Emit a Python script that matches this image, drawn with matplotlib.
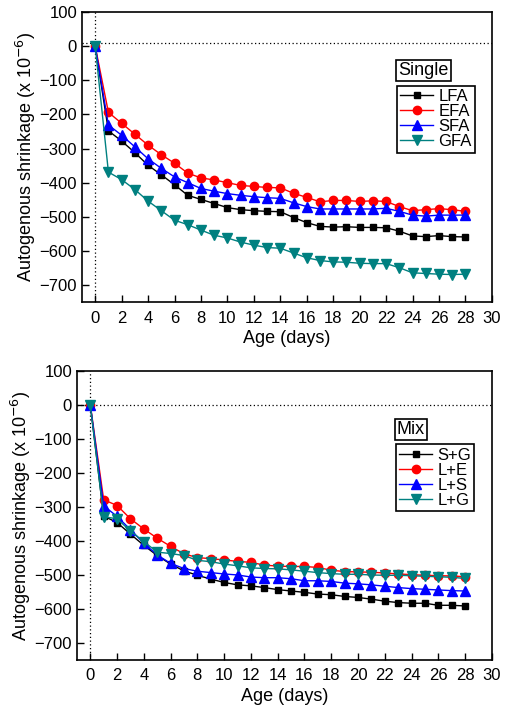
import matplotlib
matplotlib.use("Agg")
import matplotlib.pyplot as plt

plt.rcParams['font.family'] = ['Liberation Sans', 'DejaVu Sans']

days = list(range(29))

# top panel - single
lfa = [0, -248, -278, -312, -349, -377, -406, -437, -449, -461, -473, -479, -482, -484, -485,
       -502, -517, -528, -530, -529, -531, -531, -532, -542, -556, -558, -555, -558, -559]
efa = [0, -194, -226, -258, -290, -318, -343, -372, -386, -392, -400, -408, -411, -414, -415,
       -431, -443, -456, -452, -452, -455, -453, -455, -470, -482, -479, -476, -479, -484]
sfa = [0, -231, -261, -295, -330, -358, -383, -400, -417, -425, -432, -437, -441, -444, -446,
       -459, -470, -477, -477, -477, -477, -477, -475, -484, -495, -498, -495, -495, -495]
gfa = [0, -369, -391, -420, -454, -482, -510, -523, -539, -554, -562, -574, -583, -590, -592,
       -606, -620, -628, -632, -633, -636, -637, -637, -649, -664, -666, -668, -669, -668]

# bottom panel - mix
sg = [0, -327, -346, -380, -413, -443, -468, -488, -501, -512, -522, -529, -532, -537, -543,
      -547, -551, -556, -558, -563, -566, -571, -577, -581, -583, -583, -589, -589, -591]
le = [0, -279, -296, -335, -365, -392, -416, -438, -449, -452, -456, -460, -463, -471, -474,
      -475, -475, -478, -486, -490, -491, -492, -494, -497, -499, -501, -502, -503, -505]
ls = [0, -297, -328, -367, -407, -441, -466, -481, -489, -493, -497, -500, -506, -508, -508,
      -511, -517, -517, -519, -524, -526, -529, -533, -537, -540, -542, -544, -546, -547]
lg = [0, -329, -335, -371, -402, -433, -437, -443, -457, -461, -468, -473, -479, -481, -482,
      -485, -489, -493, -496, -498, -498, -500, -501, -501, -502, -504, -505, -507, -510]

colors = ['black', 'red', 'blue', '#008080']
markers = ['s', 'o', '^', 'v']
msizes = [5, 6, 6.5, 6.5]

fig = plt.figure(figsize=(5.06, 7.06), dpi=100)
ax1 = fig.add_axes([0.162, 0.572, 0.810, 0.411])
ax2 = fig.add_axes([0.152, 0.065, 0.820, 0.410])


def panel(ax, series, names, title, hline):
    ax.axhline(hline, color='black', ls=(0, (1, 2)), lw=0.9, zorder=1)
    ax.axvline(0, color='black', ls=(0, (1, 2)), lw=0.9, zorder=1)
    for s, n, c, m, ms in zip(series, names, colors, markers, msizes):
        ax.plot(days, s, color=c, marker=m, ms=ms, lw=1, label=n, zorder=3)
    ax.set_xlim(-1, 30)
    ax.set_ylim(-750, 100)
    ax.set_xticks(range(0, 31, 2))
    ax.set_yticks(range(-700, 101, 100))
    ax.tick_params(direction='in', length=5, width=1, labelsize=12)
    ax.tick_params(axis='x', pad=6)
    for sp in ax.spines.values():
        sp.set_linewidth(1.2)
    ax.set_xlabel('Age (days)', fontsize=13, labelpad=3)
    ax.set_ylabel('Autogenous shrinkage (x 10$^{-6}$)', fontsize=13, labelpad=1)
    ax.text(0.771, 0.827, title, transform=ax.transAxes, ha='left', va='top', fontsize=13,
            bbox=dict(boxstyle='square,pad=0.12', fc='white', ec='black', lw=1.2))
    leg = ax.legend(loc='upper left', bbox_to_anchor=(0.768, 0.745), fontsize=12,
                    fancybox=False, edgecolor='black', framealpha=1, borderpad=0.2,
                    labelspacing=0.0, handlelength=2.0, handletextpad=0.3, borderaxespad=0)
    leg.get_frame().set_linewidth(1.2)


panel(ax1, [lfa, efa, sfa, gfa], ['LFA', 'EFA', 'SFA', 'GFA'], 'Single', 10)
panel(ax2, [sg, le, ls, lg], ['S+G', 'L+E', 'L+S', 'L+G'], 'Mix', 0)

fig.savefig('out.png', dpi=100)
